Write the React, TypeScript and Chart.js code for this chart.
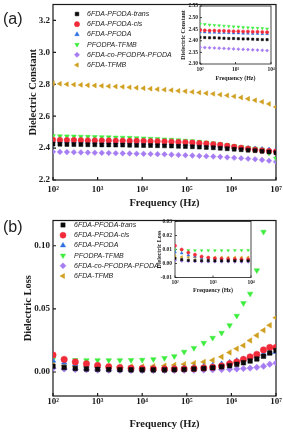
import React, { useEffect, useRef } from 'react';
import { Chart, registerables } from 'chart.js';
import { drawPoint } from 'chart.js/helpers';

Chart.register(...registerables);

// ---------- series meta ----------
const SERIES_NAMES = ['6FDA-PFODA-trans', '6FDA-PFODA-cis', '6FDA-PFODA', 'PFODPA-TFMB', '6FDA-co-PFODPA-PFODA', '6FDA-TFMB'];
const SERIES_COLORS = ['#0a0a0a', '#f22b3b', '#2f6fe4', '#3ded3d', '#a67cf2', '#d09f1f'];
const SERIES_SHAPES = ['rect', 'circle', 'triangle', 'triangle', 'rectRot', 'triangle'];
const SERIES_ROTATION = [0, 0, 0, 180, 0, 270];

// ---------- tick labels ----------
const X_TICK_VALUES = [1e2, 1e3, 1e4, 1e5, 1e6, 1e7];
const X_TICK_LABELS = ['10²', '10³', '10⁴', '10⁵', '10⁶', '10⁷'];
const INSET_X_TICK_VALUES = [1e2, 1e3, 1e4];
const INSET_X_TICK_LABELS = ['10²', '10³', '10⁴'];
const Y_TICKS_A = [2.2, 2.4, 2.6, 2.8, 3.0, 3.2];
const Y_TICKS_B = [0, 0.05, 0.1];
const Y_TICKS_A_INSET = [2.3, 2.35, 2.4, 2.45, 2.5, 2.55];
const Y_TICKS_B_INSET = [-0.01, 0, 0.01, 0.02, 0.03];

// ---------- (a) dielectric constant ----------
const FREQ_A = [100, 143, 205, 294, 422, 604, 866, 1241, 1778, 2548, 3652, 5233, 7499, 10746, 15399, 22067, 31623, 45316, 64938, 93057, 133352, 191095, 273842, 392419, 562341, 805842, 1154782, 1654817, 2371374, 3398208, 4869675, 6978306, 10000000];
const DK_TRANS = [2.425, 2.424, 2.423, 2.422, 2.422, 2.421, 2.421, 2.42, 2.42, 2.419, 2.419, 2.418, 2.417, 2.416, 2.416, 2.415, 2.414, 2.413, 2.411, 2.41, 2.408, 2.406, 2.404, 2.402, 2.399, 2.396, 2.393, 2.39, 2.387, 2.384, 2.38, 2.376, 2.371];
const DK_CIS = [2.452, 2.451, 2.45, 2.45, 2.449, 2.448, 2.448, 2.447, 2.447, 2.446, 2.446, 2.445, 2.445, 2.444, 2.443, 2.442, 2.441, 2.44, 2.438, 2.436, 2.434, 2.431, 2.428, 2.424, 2.42, 2.414, 2.408, 2.402, 2.396, 2.39, 2.385, 2.381, 2.378];
const DK_PFODA = [2.443, 2.442, 2.441, 2.44, 2.44, 2.439, 2.438, 2.438, 2.437, 2.436, 2.436, 2.435, 2.434, 2.433, 2.432, 2.431, 2.43, 2.428, 2.427, 2.425, 2.423, 2.421, 2.418, 2.415, 2.412, 2.409, 2.405, 2.402, 2.399, 2.396, 2.393, 2.39, 2.387];
const DK_PFODPA_TFMB = [2.476, 2.475, 2.474, 2.473, 2.472, 2.471, 2.47, 2.469, 2.468, 2.467, 2.466, 2.465, 2.463, 2.461, 2.459, 2.457, 2.455, 2.453, 2.45, 2.447, 2.444, 2.44, 2.436, 2.431, 2.426, 2.42, 2.413, 2.407, 2.402, 2.398, 2.392, 2.368, 2.335];
const DK_CO = [2.377, 2.376, 2.375, 2.374, 2.373, 2.372, 2.371, 2.37, 2.369, 2.368, 2.367, 2.366, 2.365, 2.364, 2.363, 2.362, 2.361, 2.359, 2.357, 2.355, 2.353, 2.351, 2.349, 2.347, 2.345, 2.342, 2.339, 2.336, 2.333, 2.33, 2.326, 2.321, 2.314];
const DK_TFMB = [2.806, 2.803, 2.8, 2.798, 2.796, 2.794, 2.792, 2.79, 2.788, 2.786, 2.784, 2.781, 2.778, 2.775, 2.772, 2.769, 2.766, 2.763, 2.759, 2.756, 2.752, 2.748, 2.744, 2.74, 2.735, 2.73, 2.724, 2.717, 2.709, 2.7, 2.69, 2.677, 2.658];

// ---------- (a) inset ----------
const FREQ_A_INSET = [100, 136, 186, 254, 347, 473, 646, 881, 1202, 1641, 2239, 3055, 4169, 5689, 7762];
const DKI_TRANS = [2.415, 2.414, 2.413, 2.413, 2.412, 2.411, 2.41, 2.41, 2.409, 2.408, 2.408, 2.407, 2.406, 2.405, 2.405];
const DKI_CIS = [2.446, 2.445, 2.444, 2.444, 2.443, 2.443, 2.442, 2.441, 2.441, 2.44, 2.44, 2.439, 2.439, 2.438, 2.437];
const DKI_PFODA = [2.438, 2.437, 2.436, 2.436, 2.435, 2.435, 2.434, 2.433, 2.433, 2.432, 2.432, 2.431, 2.431, 2.43, 2.43];
const DKI_PFODPA_TFMB = [2.473, 2.471, 2.469, 2.467, 2.466, 2.464, 2.463, 2.461, 2.46, 2.458, 2.457, 2.456, 2.455, 2.454, 2.452];
const DKI_CO = [2.372, 2.371, 2.37, 2.369, 2.368, 2.367, 2.366, 2.365, 2.364, 2.363, 2.362, 2.361, 2.36, 2.359, 2.358];

// ---------- (b) dielectric loss ----------
const FREQ_B = [100, 178, 316, 562, 1000, 1778, 3162, 5623, 10000, 17783, 31623, 52481, 87096, 144544, 239883, 380189, 602560, 912011, 1318257, 1862087, 2630268, 3715352, 5248075, 7244360, 10000000];
const DF_TRANS = [0.0045, 0.0035, 0.0028, 0.0024, 0.0021, 0.0019, 0.0018, 0.0017, 0.0017, 0.0017, 0.0017, 0.0018, 0.002, 0.0023, 0.0027, 0.0033, 0.0041, 0.005, 0.0061, 0.0073, 0.0087, 0.0103, 0.0125, 0.015, 0.017];
const DF_CIS = [0.0135, 0.01, 0.008, 0.0065, 0.0052, 0.0042, 0.0035, 0.003, 0.0027, 0.0025, 0.0024, 0.0024, 0.0025, 0.0028, 0.0032, 0.0038, 0.0048, 0.0065, 0.008, 0.01, 0.012, 0.014, 0.0175, 0.0195, 0.0195];
const DF_PFODA = [0.009, 0.0075, 0.0062, 0.0052, 0.0044, 0.0038, 0.0033, 0.003, 0.0028, 0.0027, 0.0027, 0.0028, 0.0031, 0.0036, 0.0043, 0.0052, 0.0063, 0.0076, 0.009, 0.0102, 0.0115, 0.0128, 0.0142, 0.0155, 0.016];
const DF_PFODPA_TFMB = [0.0102, 0.0096, 0.0094, 0.0093, 0.0093, 0.0093, 0.0093, 0.0094, 0.0096, 0.0101, 0.011, 0.0125, 0.016, 0.019, 0.023, 0.027, 0.031, 0.037, 0.0445, 0.0545, 0.062, 0.0805, 0.111, null, null];
const DF_CO = [0.003, 0.0024, 0.002, 0.0017, 0.0015, 0.0014, 0.0013, 0.0012, 0.0012, 0.0012, 0.0012, 0.0012, 0.0013, 0.0014, 0.0015, 0.0017, 0.0019, 0.0021, 0.0024, 0.0027, 0.0031, 0.0037, 0.0046, 0.0062, 0.0072];
const DF_TFMB = [0.006, 0.005, 0.0045, 0.0043, 0.0042, 0.0042, 0.0042, 0.0043, 0.0044, 0.0046, 0.005, 0.0055, 0.0062, 0.007, 0.008, 0.0093, 0.012, 0.0155, 0.0185, 0.021, 0.025, 0.029, 0.033, 0.037, 0.043];

// ---------- (b) inset ----------
const FREQ_B_INSET = [100, 150, 224, 335, 501, 750, 1122, 1679, 2512, 3758, 5623, 8414];
const DFI_TRANS = [0.0036, 0.0027, 0.0023, 0.0021, 0.002, 0.002, 0.0019, 0.0019, 0.0019, 0.0019, 0.0019, 0.0019];
const DFI_CIS = [0.0127, 0.0100, 0.0078, 0.0063, 0.005, 0.0042, 0.0037, 0.0034, 0.0032, 0.0031, 0.003, 0.003];
const DFI_PFODA = [0.0082, 0.0074, 0.006, 0.005, 0.0042, 0.0036, 0.0032, 0.003, 0.0029, 0.0028, 0.0028, 0.0028];
const DFI_PFODPA_TFMB = [0.0098, 0.0095, 0.0094, 0.0093, 0.0093, 0.0093, 0.0093, 0.0093, 0.0093, 0.0094, 0.0094, 0.0095];
const DFI_CO = [0.0022, 0.0018, 0.0016, 0.0015, 0.0014, 0.0013, 0.0013, 0.0013, 0.0013, 0.0012, 0.0012, 0.0012];
const DFI_TFMB = [0.005, 0.0046, 0.0045, 0.0044, 0.0043, 0.0043, 0.0043, 0.0043, 0.0043, 0.0043, 0.0043, 0.0044];

const SERIF = "'Times New Roman', 'Liberation Serif', serif";
const SANS = "Arial, 'Liberation Sans', sans-serif";

type LegendSpec = { x: number; y: number; dy: number; gap: number; r: number; size: number };
type PanelSpec = {
  freq: number[];
  series: ((number | null)[] | null)[];
  xMin: number; xMax: number; xTicks: number[]; xLabels: string[];
  yMin: number; yMax: number; yTicks: number[]; yDecimals: number;
  yTitle: string;
  padTop: number; padRight: number; yAxisW: number; xAxisH: number;
  tickSize: number; titleSize: number;
  yTickPad: number; xTickPad: number; yTitlePad: number; xTitlePad: number;
  radius: number; tickLen: number; lineWidth: number;
  legend?: LegendSpec;
};

function framePlugin(tickLen: number, lw: number) {
  return {
    id: 'frame',
    beforeDatasetsDraw(chart: any) {
      const { ctx, chartArea: a, scales } = chart;
      ctx.save();
      ctx.strokeStyle = '#1a1a1a';
      ctx.lineWidth = lw;
      ctx.strokeRect(a.left, a.top, a.right - a.left, a.bottom - a.top);
      ctx.beginPath();
      scales.x.ticks.forEach((t: any) => {
        const px = scales.x.getPixelForValue(t.value);
        ctx.moveTo(px, a.bottom);
        ctx.lineTo(px, a.bottom - tickLen);
      });
      scales.y.ticks.forEach((t: any) => {
        const py = scales.y.getPixelForValue(t.value);
        ctx.moveTo(a.left, py);
        ctx.lineTo(a.left + tickLen, py);
      });
      ctx.stroke();
      ctx.restore();
    },
  };
}

function legendPlugin(spec: LegendSpec) {
  return {
    id: 'insideLegend',
    afterDatasetsDraw(chart: any) {
      const ctx = chart.ctx;
      ctx.save();
      ctx.font = `italic ${spec.size}px ${SANS}`;
      ctx.textBaseline = 'middle';
      ctx.textAlign = 'left';
      chart.data.datasets.forEach((ds: any, i: number) => {
        const x = spec.x;
        const y = spec.y + i * spec.dy;
        ctx.fillStyle = ds.pointBackgroundColor;
        ctx.strokeStyle = ds.pointBorderColor;
        ctx.lineWidth = 0.5;
        drawPoint(ctx, { pointStyle: ds.pointStyle, rotation: ds.pointRotation, radius: spec.r, borderWidth: 0.5 } as any, x, y);
        ctx.fillStyle = '#222';
        ctx.fillText(ds.label, x + spec.gap, y);
      });
      ctx.restore();
    },
  };
}

function buildConfig(s: PanelSpec): any {
  const datasets: any[] = [];
  s.series.forEach((vals, i) => {
    if (!vals) return;
    datasets.push({
      label: SERIES_NAMES[i],
      data: s.freq.map((f, k) => ({ x: f, y: vals[k] })).filter((p) => p.y !== null),
      showLine: false,
      pointStyle: SERIES_SHAPES[i],
      pointRotation: SERIES_ROTATION[i],
      pointRadius: s.radius,
      pointBackgroundColor: SERIES_COLORS[i],
      pointBorderColor: SERIES_COLORS[i],
      pointBorderWidth: 0.5,
      backgroundColor: SERIES_COLORS[i],
      borderColor: SERIES_COLORS[i],
    });
  });
  const plugins: any[] = [framePlugin(s.tickLen, s.lineWidth)];
  if (s.legend) plugins.push(legendPlugin(s.legend));
  return {
    type: 'scatter',
    data: { datasets },
    plugins,
    options: {
      responsive: false,
      animation: false,
      layout: { padding: { top: s.padTop, right: s.padRight, left: 0, bottom: 0 } },
      plugins: { legend: { display: false }, tooltip: { enabled: false } },
      scales: {
        x: {
          type: 'logarithmic',
          min: s.xMin,
          max: s.xMax,
          afterBuildTicks: (sc: any) => { sc.ticks = s.xTicks.map((v) => ({ value: v })); },
          afterFit: (sc: any) => {
            sc.height = s.xAxisH;
            sc.paddingLeft = 0; sc.paddingRight = 0; sc.paddingTop = 0; sc.paddingBottom = 0;
          },
          grid: { display: false, drawTicks: false },
          border: { display: false },
          ticks: {
            autoSkip: false, maxRotation: 0, padding: s.xTickPad, color: '#1a1a1a',
            font: { family: SERIF, size: s.tickSize, weight: 'bold' },
            callback: (_v: any, idx: number) => s.xLabels[idx],
          },
          title: {
            display: true, text: 'Frequency (Hz)', color: '#1a1a1a',
            font: { family: SERIF, size: s.titleSize, weight: 'bold' },
            padding: { top: 0, bottom: s.xTitlePad },
          },
        },
        y: {
          type: 'linear',
          min: s.yMin,
          max: s.yMax,
          afterBuildTicks: (sc: any) => { sc.ticks = s.yTicks.map((v) => ({ value: v })); },
          afterFit: (sc: any) => {
            sc.width = s.yAxisW;
            sc.paddingLeft = 0; sc.paddingRight = 0; sc.paddingTop = 0; sc.paddingBottom = 0;
          },
          grid: { display: false, drawTicks: false },
          border: { display: false },
          ticks: {
            autoSkip: false, padding: s.yTickPad, color: '#1a1a1a',
            font: { family: SERIF, size: s.tickSize, weight: 'bold' },
            callback: (v: any) => Number(v).toFixed(s.yDecimals),
          },
          title: {
            display: true, text: s.yTitle, color: '#1a1a1a',
            font: { family: SERIF, size: s.titleSize, weight: 'bold' },
            padding: { top: s.yTitlePad, bottom: 0 },
          },
        },
      },
    },
  };
}

function Panel({ spec, left, top, width, height }: { spec: PanelSpec; left: number; top: number; width: number; height: number }) {
  const ref = useRef<HTMLCanvasElement>(null);
  useEffect(() => {
    if (!ref.current) return;
    const chart = new Chart(ref.current, buildConfig(spec));
    return () => chart.destroy();
  }, []);
  return (
    <div style={{ position: 'absolute', left, top, width, height }}>
      <canvas ref={ref} width={width} height={height} style={{ width, height, display: 'block' }} />
    </div>
  );
}

const SPEC_A: PanelSpec = {
  freq: FREQ_A,
  series: [DK_TRANS, DK_CIS, DK_PFODA, DK_PFODPA_TFMB, DK_CO, DK_TFMB],
  xMin: 1e2, xMax: 1e7, xTicks: X_TICK_VALUES, xLabels: X_TICK_LABELS,
  yMin: 2.2, yMax: 3.3, yTicks: Y_TICKS_A, yDecimals: 1,
  yTitle: 'Dielectric Constant',
  padTop: 2, padRight: 7, yAxisW: 53, xAxisH: 36,
  tickSize: 9, titleSize: 10.5,
  yTickPad: 3, xTickPad: 4, yTitlePad: 27, xTitlePad: 6.7,
  radius: 2.8, tickLen: 3, lineWidth: 1.2,
  legend: { x: 77, y: 14, dy: 10.2, gap: 10, r: 2.6, size: 7 },
};

const SPEC_A_INSET: PanelSpec = {
  freq: FREQ_A_INSET,
  series: [DKI_TRANS, DKI_CIS, DKI_PFODA, DKI_PFODPA_TFMB, DKI_CO, null],
  xMin: 1e2, xMax: 1e4, xTicks: INSET_X_TICK_VALUES, xLabels: INSET_X_TICK_LABELS,
  yMin: 2.3, yMax: 2.55, yTicks: Y_TICKS_A_INSET, yDecimals: 2,
  yTitle: 'Dielectric Constant',
  padTop: 6, padRight: 7, yAxisW: 40, xAxisH: 26,
  tickSize: 5.5, titleSize: 6,
  yTickPad: 2, xTickPad: 2.4, yTitlePad: 19.4, xTitlePad: 7.9,
  radius: 1.6, tickLen: 2, lineWidth: 0.8,
};

const SPEC_B: PanelSpec = {
  freq: FREQ_B,
  series: [DF_TRANS, DF_CIS, DF_PFODA, DF_PFODPA_TFMB, DF_CO, DF_TFMB],
  xMin: 1e2, xMax: 1e7, xTicks: X_TICK_VALUES, xLabels: X_TICK_LABELS,
  yMin: -0.019, yMax: 0.12, yTicks: Y_TICKS_B, yDecimals: 2,
  yTitle: 'Dielectric Loss',
  padTop: 2, padRight: 7, yAxisW: 53, xAxisH: 36,
  tickSize: 9, titleSize: 10.5,
  yTickPad: 3, xTickPad: 0, yTitlePad: 22, xTitlePad: 1.4,
  radius: 3.2, tickLen: 3, lineWidth: 1.2,
  legend: { x: 63, y: 9, dy: 10.2, gap: 11, r: 3, size: 7 },
};

const SPEC_B_INSET: PanelSpec = {
  freq: FREQ_B_INSET,
  series: [DFI_TRANS, DFI_CIS, DFI_PFODA, DFI_PFODPA_TFMB, DFI_CO, DFI_TFMB],
  xMin: 1e2, xMax: 1e4, xTicks: INSET_X_TICK_VALUES, xLabels: INSET_X_TICK_LABELS,
  yMin: -0.01, yMax: 0.03, yTicks: Y_TICKS_B_INSET, yDecimals: 2,
  yTitle: 'Dielectric Loss',
  padTop: 5.5, padRight: 7, yAxisW: 35, xAxisH: 18.5,
  tickSize: 5.5, titleSize: 6,
  yTickPad: 3, xTickPad: 1.4, yTitlePad: 15.4, xTitlePad: 1.9,
  radius: 1.6, tickLen: 2, lineWidth: 0.8,
};

export default function App() {
  return (
    <div style={{ position: 'absolute', left: 0, top: 0, width: 283, height: 432, background: '#fff', overflow: 'hidden' }}>
      <Panel spec={SPEC_A} left={0} top={0} width={283} height={216} />
      <Panel spec={SPEC_A_INSET} left={160} top={0} width={118} height={90} />
      <Panel spec={SPEC_B} left={0} top={216} width={283} height={216} />
      <Panel spec={SPEC_B_INSET} left={140} top={216} width={118} height={80} />
      <div style={{ position: 'absolute', left: 3, top: 10, fontFamily: SANS, fontSize: 16, lineHeight: '18px', color: '#222' }}>(a)</div>
      <div style={{ position: 'absolute', left: 3, top: 218, fontFamily: SANS, fontSize: 16, lineHeight: '18px', color: '#222' }}>(b)</div>
    </div>
  );
}
